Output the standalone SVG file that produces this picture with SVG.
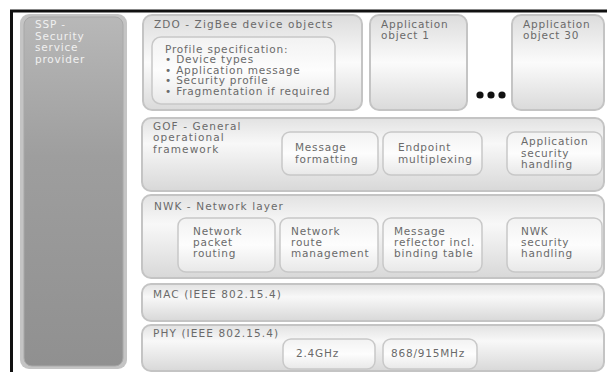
<svg xmlns="http://www.w3.org/2000/svg" width="607" height="372" viewBox="0 0 607 372">
<defs>
<linearGradient id="ssp" x1="0" y1="0" x2="0" y2="1">
<stop offset="0" stop-color="#b8b8b8"/><stop offset="0.4" stop-color="#9e9e9e"/><stop offset="1" stop-color="#909090"/>
</linearGradient>
<linearGradient id="layer" x1="0" y1="0" x2="0" y2="1">
<stop offset="0" stop-color="#e2e2e2"/><stop offset="0.35" stop-color="#f8f8f8"/><stop offset="1" stop-color="#d8d8d8"/>
</linearGradient>
<linearGradient id="tall" x1="0" y1="0" x2="0" y2="1">
<stop offset="0" stop-color="#dcdcdc"/><stop offset="0.5" stop-color="#fbfbfb"/><stop offset="1" stop-color="#dadada"/>
</linearGradient>
<linearGradient id="sub" x1="0" y1="0" x2="0" y2="1">
<stop offset="0" stop-color="#f2f2f2"/><stop offset="0.5" stop-color="#fdfdfd"/><stop offset="1" stop-color="#e8e8e8"/>
</linearGradient>
</defs>
<style>
.t{font-family:"DejaVu Sans",Verdana,sans-serif;font-size:10.5px;fill:#6a6a6a;letter-spacing:0.8px}
.h{letter-spacing:1.1px}
.w{fill:#f0f0f0}
.lay{fill:url(#layer);stroke:#c4c4c4;stroke-width:2}
.tall{fill:url(#tall);stroke:#c4c4c4;stroke-width:2}
.sub{fill:url(#sub);stroke:#c8c8c8;stroke-width:1.5}
</style>
<rect width="607" height="372" fill="#ffffff"/>
<path d="M11.5 372 V11 H607" fill="none" stroke="#111" stroke-width="3"/>

<g id="ssp-node">
<rect x="20" y="14" width="107" height="355" rx="9" fill="#c4c4c4"/>
<rect x="24" y="17" width="99" height="349" rx="8" fill="url(#ssp)" stroke="#a8a8a8" stroke-width="1"/>
<text class="t w" x="35" y="28">SSP -</text>
<text class="t w" x="35" y="39.5">Security</text>
<text class="t w" x="35" y="51">service</text>
<text class="t w" x="35" y="62.5">provider</text>
</g>

<g id="zdo">
<rect class="tall" x="143" y="15" width="219" height="95" rx="9"/>
<text class="t h" x="154" y="28">ZDO - ZigBee device objects</text>
<rect class="sub" x="152" y="37" width="183" height="67" rx="9"/>
<text class="t" x="165" y="52.5">Profile specification:</text>
<text class="t" x="165" y="63">• Device types</text>
<text class="t" x="165" y="73.5">• Application message</text>
<text class="t" x="165" y="84">• Security profile</text>
<text class="t" x="165" y="94.5">• Fragmentation if required</text>
</g>

<g id="app1">
<rect class="tall" x="370" y="15" width="97" height="95" rx="9"/>
<text class="t" x="381" y="28">Application</text>
<text class="t" x="381" y="38.5">object 1</text>
</g>

<g id="dots">
<circle cx="480" cy="95" r="3.6" fill="#111"/>
<circle cx="491" cy="95" r="3.6" fill="#111"/>
<circle cx="502" cy="95" r="3.6" fill="#111"/>
</g>

<g id="app30">
<rect class="tall" x="512" y="15" width="92" height="95" rx="9"/>
<text class="t" x="523" y="28">Application</text>
<text class="t" x="523" y="38.5">object 30</text>
</g>

<g id="gof">
<rect class="lay" x="142" y="118" width="462" height="73" rx="9"/>
<text class="t h" x="153" y="129.5">GOF - General</text>
<text class="t h" x="153" y="141">operational</text>
<text class="t h" x="153" y="152.5">framework</text>
</g>
<g id="msgfmt">
<rect class="sub" x="282" y="132" width="96" height="43" rx="8"/>
<text class="t" x="295" y="151">Message</text>
<text class="t" x="295" y="163">formatting</text>
</g>
<g id="endpoint">
<rect class="sub" x="383" y="132" width="99" height="43" rx="8"/>
<text class="t" x="398" y="151">Endpoint</text>
<text class="t" x="398" y="163">multiplexing</text>
</g>
<g id="appsec">
<rect class="sub" x="507" y="132" width="95" height="43" rx="8"/>
<text class="t" x="521" y="145">Application</text>
<text class="t" x="521" y="156.5">security</text>
<text class="t" x="521" y="168">handling</text>
</g>

<g id="nwk">
<rect class="lay" x="142" y="195" width="462" height="83" rx="9"/>
<text class="t h" x="154" y="210">NWK - Network layer</text>
</g>
<g id="pktrout">
<rect class="sub" x="178" y="218" width="97" height="54" rx="8"/>
<text class="t" x="193" y="235">Network</text>
<text class="t" x="193" y="246">packet</text>
<text class="t" x="193" y="257">routing</text>
</g>
<g id="routemgmt">
<rect class="sub" x="280" y="218" width="98" height="54" rx="8"/>
<text class="t" x="291" y="235">Network</text>
<text class="t" x="291" y="246">route</text>
<text class="t" x="291" y="257">management</text>
</g>
<g id="reflector">
<rect class="sub" x="383" y="218" width="99" height="54" rx="8"/>
<text class="t" x="394" y="235">Message</text>
<text class="t" x="394" y="246">reflector incl.</text>
<text class="t" x="394" y="257">binding table</text>
</g>
<g id="nwksec">
<rect class="sub" x="507" y="218" width="95" height="54" rx="8"/>
<text class="t" x="521" y="235">NWK</text>
<text class="t" x="521" y="246">security</text>
<text class="t" x="521" y="257">handling</text>
</g>

<g id="mac">
<rect class="lay" x="142" y="284" width="462" height="37" rx="9"/>
<text class="t h" x="153" y="298">MAC (IEEE 802.15.4)</text>
</g>

<g id="phy">
<rect class="lay" x="142" y="325" width="462" height="46" rx="9"/>
<text class="t h" x="153" y="337">PHY (IEEE 802.15.4)</text>
</g>
<g id="ghz24">
<rect class="sub" x="283" y="339" width="92" height="30" rx="8"/>
<text class="t" x="296" y="357">2.4GHz</text>
</g>
<g id="mhz868">
<rect class="sub" x="383" y="339" width="94" height="30" rx="8"/>
<text class="t" x="391" y="357">868/915MHz</text>
</g>

<g id="connectors"></g>
</svg>
